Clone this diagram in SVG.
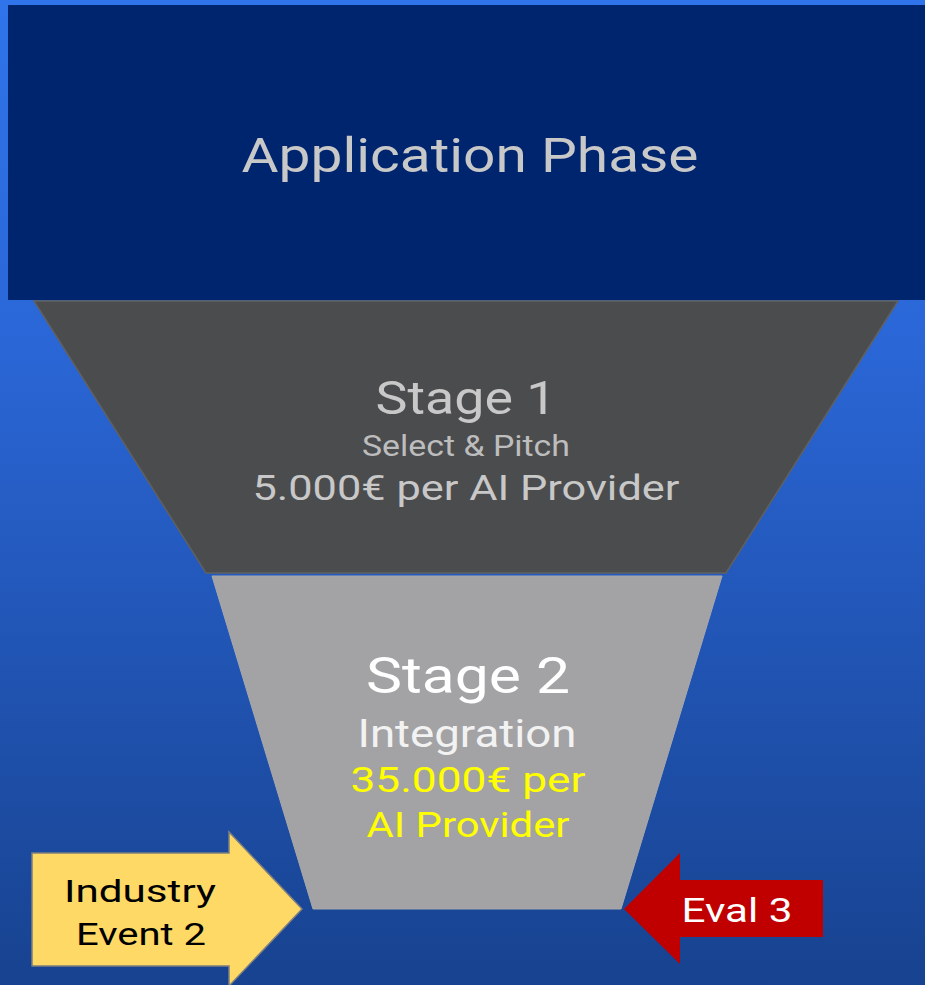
<svg xmlns="http://www.w3.org/2000/svg" width="925" height="985" viewBox="0 0 925 985">
<defs>
<linearGradient id="bg" x1="0" y1="0" x2="0" y2="1">
<stop offset="0" stop-color="#2F74EA"/>
<stop offset="0.35" stop-color="#2A66D6"/>
<stop offset="1" stop-color="#17428F"/>
</linearGradient>
<style>
text{font-family:Roboto,"Liberation Sans",sans-serif;text-anchor:middle}
.t{fill:#C8C8C8}
</style>
</defs>
<rect x="0" y="0" width="925" height="985" fill="url(#bg)"/>
<g id="application-phase">
<rect x="8" y="5" width="917" height="295" fill="#00256F"/>
<text class="t" x="470" y="172" font-size="48" textLength="457" lengthAdjust="spacingAndGlyphs">Application Phase</text>
</g>
<g id="stage-1">
<polygon points="34,301 898,301 726,573 206,573" fill="#4B4C4E" stroke="#606060" stroke-width="1.5"/>
<text class="t" x="466" y="414" font-size="47" textLength="181" lengthAdjust="spacingAndGlyphs">Stage 1</text>
<text x="466" y="456" font-size="29" fill="#BDBDBD" textLength="208" lengthAdjust="spacingAndGlyphs">Select &amp; Pitch</text>
<text class="t" x="466" y="500" font-size="35" textLength="427" lengthAdjust="spacingAndGlyphs">5.000€ per AI Provider</text>
</g>
<g id="stage-2">
<polygon points="212,576 722,576 621,909 313,909" fill="#A3A3A5" stroke="#A8A8AA" stroke-width="1"/>
<text x="468" y="693" font-size="50" fill="#FFFFFF" textLength="204" lengthAdjust="spacingAndGlyphs">Stage 2</text>
<text x="467" y="747" font-size="38" fill="#F2F2F2" textLength="219" lengthAdjust="spacingAndGlyphs">Integration</text>
<text x="468" y="792" font-size="35" fill="#FFFF00" textLength="235" lengthAdjust="spacingAndGlyphs">35.000€ per</text>
<text x="468" y="837" font-size="35" fill="#FFFF00" textLength="203" lengthAdjust="spacingAndGlyphs">AI Provider</text>
</g>
<g id="industry-event-2">
<polygon points="32,853 229,853 229,832 302,909 229,986 229,966 32,966" fill="#FFD966" stroke="#7F7F7F" stroke-width="1.5"/>
<text x="140" y="902" font-size="32" fill="#000000" textLength="152" lengthAdjust="spacingAndGlyphs">Industry</text>
<text x="141" y="945" font-size="32" fill="#000000" textLength="130" lengthAdjust="spacingAndGlyphs">Event 2</text>
</g>
<g id="eval-3">
<polygon points="624,909 680,853 680,880 823,880 823,937 680,937 680,964" fill="#C00000"/>
<text x="737" y="922" font-size="33" fill="#FFFFFF" textLength="111" lengthAdjust="spacingAndGlyphs">Eval 3</text>
</g>
<g id="connectors"/>
</svg>
